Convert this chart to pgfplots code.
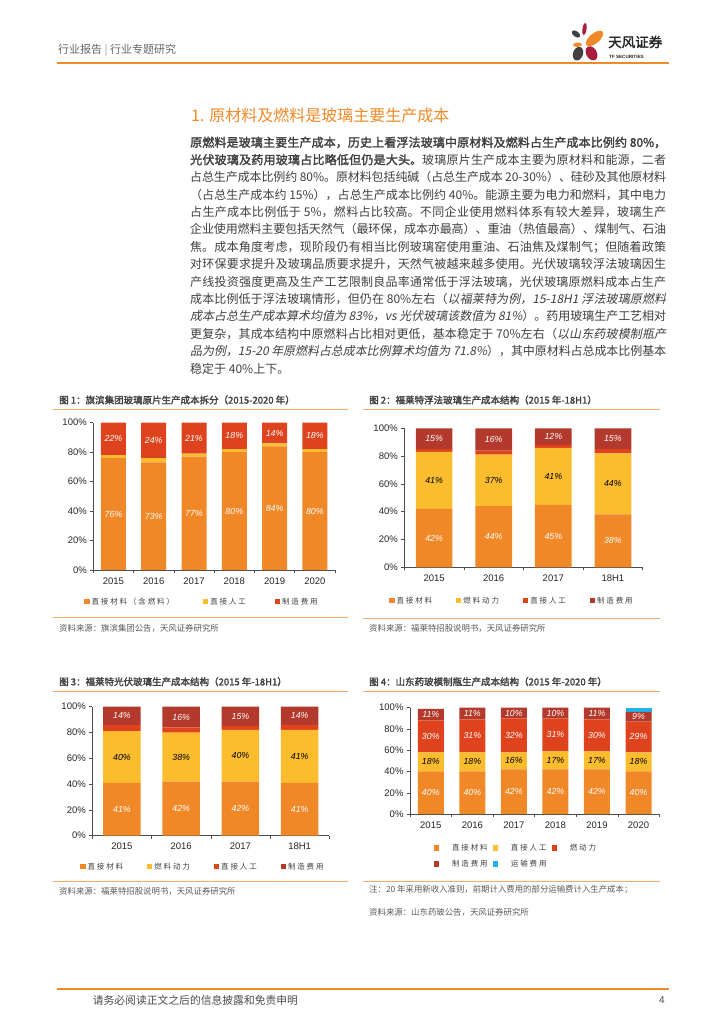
\documentclass[border=0pt]{standalone}
\usepackage{fontspec}
\usepackage{pgfplots}
\pgfplotsset{compat=1.18}
\setmainfont{Noto Sans CJK SC}[AutoFakeBold=2, AutoFakeSlant=0.2]
\newfontfamily\arial{Liberation Sans}
\newfontfamily\legfont{Noto Sans CJK SC}[LetterSpace=25]
\XeTeXlinebreaklocale "zh"
\XeTeXlinebreakskip=0pt plus 2pt minus 0.3pt
\definecolor{cor}{RGB}{241,136,40}
\definecolor{cye}{RGB}{251,188,45}
\definecolor{cre}{RGB}{223,67,30}
\definecolor{cdr}{RGB}{178,57,44}
\definecolor{cbl}{RGB}{30,180,234}
\definecolor{tfor}{RGB}{240,138,40}
\definecolor{lineor}{RGB}{245,170,105}
\definecolor{txt}{RGB}{64,64,64}
\definecolor{crim}{RGB}{168,28,62}
\definecolor{dgray}{RGB}{64,64,64}
\pgfplotsset{
 stk/.style={
  ybar stacked, scale only axis, ymin=0, ymax=100,
  axis x line=bottom, axis y line=left, axis line style={-, black!70, line width=0.5pt},
  ytick={0,20,...,100}, yticklabels={0\%,20\%,40\%,60\%,80\%,100\%},
  tick align=outside, major tick length=3pt,
  tick style={black!70, line width=0.5pt},
  xticklabels={},
  extra x tick style={major tick length=0pt},
  tick label style={font=\arial\fontsize{9.5}{10}\selectfont, text=black!85},
  xticklabel style={yshift=-4pt},
  every node near coord/.append style={anchor=center, font=\arial\itshape\fontsize{8.8}{9}\selectfont},
  legend image code/.code={\path[#1, draw=none] (0pt,-2.6pt) rectangle (5.2pt,2.6pt);},
  legend style={draw=none, fill=none, font=\legfont\fontsize{7.5}{9}\selectfont, text=txt, anchor=center},
  clip=false,
 },
 wl/.style={nodes near coords, point meta=explicit symbolic, every node near coord/.append style={text=white}},
 bl/.style={nodes near coords, point meta=explicit symbolic, every node near coord/.append style={text=black}},
}
\begin{document}
\begin{tikzpicture}
\fill[white] (0,0) rectangle (724pt,-1024pt);
\path[use as bounding box] (0,0) rectangle (724pt,-1024pt);
% header
\node[anchor=west, inner sep=0, text=black!60, font=\fontsize{11}{12}\selectfont] at (58pt,-50pt) {行业报告 {\color{black!40}|} 行业专题研究};
\draw[tfor, line width=1.3pt] (57pt,-63pt) -- (669pt,-63pt);
\fill[crim, shift={(584.5pt,-29pt)}, rotate=-8] (0,0) ellipse (2pt and 6.2pt);
\fill[dgray, shift={(576pt,-34pt)}, rotate=-35] (0,0) ellipse (4.8pt and 2.8pt);
\fill[tfor, shift={(594.5pt,-38.5pt)}, rotate=40] (0,0) ellipse (10.5pt and 5pt);
\fill[tfor, shift={(577.5pt,-44.7pt)}, rotate=5] (0,0) ellipse (4.5pt and 2.2pt);
\fill[dgray, shift={(578pt,-53.7pt)}, rotate=-20] (0,0) ellipse (5pt and 7pt);
\fill[crim, shift={(591.5pt,-53.3pt)}, rotate=30] (0,0) ellipse (5.3pt and 7.5pt);
\node[anchor=west, inner sep=0, text=black!85, font=\bfseries\fontsize{13.5}{14}\selectfont] at (608pt,-42pt) {天风证券};
\node[anchor=west, inner sep=0, text=black!85, font=\arial\bfseries\fontsize{4.6}{5}\selectfont] at (609pt,-56.5pt) {TF SECURITIES};
% title
\node[anchor=west, inner sep=0, text=tfor, font=\fontsize{16}{17}\selectfont] at (191pt,-115pt) {1. 原材料及燃料是玻璃主要生产成本};
% body
\node[anchor=north west, inner sep=0, text width=476pt, align=justify, text=txt, font=\fontsize{12}{17.4}\selectfont] at (190pt,-136.5pt) {\parfillskip=0pt\emergencystretch=0pt
\textbf{原燃料是玻璃主要生产成本，历史上看浮法玻璃中原材料及燃料占生产成本比例约 80\%，}\par
\textbf{光伏玻璃及药用玻璃占比略低但仍是大头。}玻璃原片生产成本主要为原材料和能源，二者\par
占总生产成本比例约 80\%。原材料包括纯碱（占总生产成本 20-30\%）、硅砂及其他原材料\par
（占总生产成本约 15\%），占总生产成本比例约 40\%。能源主要为电力和燃料，其中电力\par
占生产成本比例低于 5\%，燃料占比较高。不同企业使用燃料体系有较大差异，玻璃生产\par
企业使用燃料主要包括天然气（最环保，成本亦最高）、重油（热值最高）、煤制气、石油\par
焦。成本角度考虑，现阶段仍有相当比例玻璃窑使用重油、石油焦及煤制气；但随着政策\par
对环保要求提升及玻璃品质要求提升，天然气被越来越多使用。光伏玻璃较浮法玻璃因生\par
产线投资强度更高及生产工艺限制良品率通常低于浮法玻璃，光伏玻璃原燃料成本占生产\par
成本比例低于浮法玻璃情形，但仍在 80\%左右（\textit{以福莱特为例，15-18H1 浮法玻璃原燃料}\par
\textit{成本占总生产成本算术均值为 83\%，vs 光伏玻璃该数值为 81\%}）。药用玻璃生产工艺相对\par
更复杂，其成本结构中原燃料占比相对更低，基本稳定于 70\%左右（\textit{以山东药玻模制瓶产}\par
\textit{品为例，15-20 年原燃料占总成本比例算术均值为 71.8\%}），其中原材料占总成本比例基本\par
\parfillskip=0pt plus 1fil 稳定于 40\%上下。\par};
% chart frames
\begin{scope}[every node/.style={anchor=west, inner sep=0}]
\node[text=txt, font=\bfseries\fontsize{9.5}{10}\selectfont] at (59pt,-400pt) {图 1：旗滨集团玻璃原片生产成本拆分（2015-2020 年）};
\node[text=txt, font=\bfseries\fontsize{9.5}{10}\selectfont] at (369pt,-400pt) {图 2：福莱特浮法玻璃生产成本结构（2015 年-18H1）};
\node[text=txt, font=\bfseries\fontsize{9.5}{10}\selectfont] at (59pt,-681.7pt) {图 3：福莱特光伏玻璃生产成本结构（2015 年-18H1）};
\node[text=txt, font=\bfseries\fontsize{9.5}{10}\selectfont] at (369pt,-681.7pt) {图 4：山东药玻模制瓶生产成本结构（2015 年-2020 年）};
\node[text=black!65, font=\fontsize{8.4}{9}\selectfont] at (59pt,-628pt) {资料来源：旗滨集团公告，天风证券研究所};
\node[text=black!65, font=\fontsize{8.4}{9}\selectfont] at (369pt,-628pt) {资料来源：福莱特招股说明书，天风证券研究所};
\node[text=black!65, font=\fontsize{8.4}{9}\selectfont] at (59pt,-891pt) {资料来源：福莱特招股说明书，天风证券研究所};
\node[text=black!65, font=\fontsize{8.4}{9}\selectfont] at (369pt,-890pt) {注：20 年采用新收入准则，前期计入费用的部分运输费计入生产成本；};
\node[text=black!65, font=\fontsize{8.4}{9}\selectfont] at (369pt,-912pt) {资料来源：山东药玻公告，天风证券研究所};
\end{scope}
\draw[lineor, line width=0.8pt] (53pt,-409pt) -- (348pt,-409pt);
\draw[lineor, line width=0.8pt] (363pt,-409pt) -- (660pt,-409pt);
\draw[lineor, line width=0.8pt] (53pt,-617.5pt) -- (348pt,-617.5pt);
\draw[lineor, line width=0.8pt] (363pt,-618.5pt) -- (660pt,-618.5pt);
\draw[lineor, line width=0.8pt] (53pt,-691pt) -- (348pt,-691pt);
\draw[lineor, line width=0.8pt] (363pt,-691pt) -- (660pt,-691pt);
\draw[lineor, line width=0.8pt] (53pt,-881.7pt) -- (348pt,-881.7pt);
\draw[lineor, line width=0.8pt] (363pt,-881.7pt) -- (660pt,-881.7pt);
% footer
\draw[tfor, line width=1.8pt] (57pt,-989.3pt) -- (669pt,-989.3pt);
\node[anchor=west, inner sep=0, text=black!70, font=\fontsize{10.8}{12}\selectfont] at (92.6pt,-1000pt) {请务必阅读正文之后的信息披露和免责申明};
\node[anchor=east, inner sep=0, text=black!70, font=\arial\fontsize{10}{12}\selectfont] at (665pt,-1000pt) {4};

% chart 1
\begin{axis}[stk, at={(93.3pt,-570pt)}, anchor=south west, width=241.7pt, height=147.3pt,
  xmin=-0.5, xmax=5.5, bar width=25pt,
  xtick={-0.5,0.5,...,5.5}, extra x ticks={0,1,2,3,4,5}, extra x tick labels={2015,2016,2017,2018,2019,2020},
  legend columns=3, legend style={at={(0.45,-0.215)}, /tikz/every even column/.append style={column sep=27pt}}]
\addplot[fill=cor, draw=none, wl] coordinates {(0,76)[76\%] (1,73)[73\%] (2,77)[77\%] (3,80)[80\%] (4,84)[84\%] (5,80)[80\%]};
\addplot[fill=cye, draw=none] coordinates {(0,2) (1,3) (2,2) (3,2) (4,2) (5,2)};
\addplot[fill=cre, draw=none, wl] coordinates {(0,22)[22\%] (1,24)[24\%] (2,21)[21\%] (3,18)[18\%] (4,14)[14\%] (5,18)[18\%]};
\legend{直接材料（含燃料）,直接人工,制造费用}
\end{axis}

% chart 2
\begin{axis}[stk, at={(404.3pt,-567.3pt)}, anchor=south west, width=238.4pt, height=139pt,
  xmin=-0.5, xmax=3.5, bar width=36.7pt,
  xtick={-0.5,0.5,...,3.5}, extra x ticks={0,1,2,3}, extra x tick labels={2015,2016,2017,18H1},
  legend columns=4, legend style={at={(0.452,-0.24)}, /tikz/every even column/.append style={column sep=22pt}}]
\addplot[fill=cor, draw=none, wl] coordinates {(0,42)[42\%] (1,44)[44\%] (2,45)[45\%] (3,38)[38\%]};
\addplot[fill=cye, draw=none, bl] coordinates {(0,41)[41\%] (1,37)[37\%] (2,41)[41\%] (3,44)[44\%]};
\addplot[fill=cre, draw=none] coordinates {(0,2) (1,3) (2,2) (3,3)};
\addplot[fill=cdr, draw=none, wl] coordinates {(0,15)[15\%] (1,16)[16\%] (2,12)[12\%] (3,15)[15\%]};
\legend{直接材料,燃料动力,直接人工,制造费用}
\end{axis}

% chart 3
\begin{axis}[stk, at={(92.3pt,-835.7pt)}, anchor=south west, width=237pt, height=129pt,
  xmin=-0.5, xmax=3.5, bar width=37.4pt,
  xtick={-0.5,0.5,...,3.5}, extra x ticks={0,1,2,3}, extra x tick labels={2015,2016,2017,18H1},
  legend columns=4, legend style={at={(0.467,-0.24)}, /tikz/every even column/.append style={column sep=22pt}}]
\addplot[fill=cor, draw=none, wl] coordinates {(0,41)[41\%] (1,42)[42\%] (2,42)[42\%] (3,41)[41\%]};
\addplot[fill=cye, draw=none, bl] coordinates {(0,40)[40\%] (1,38)[38\%] (2,40)[40\%] (3,41)[41\%]};
\addplot[fill=cre, draw=none] coordinates {(0,5) (1,4) (2,3) (3,4)};
\addplot[fill=cdr, draw=none, wl] coordinates {(0,14)[14\%] (1,16)[16\%] (2,15)[15\%] (3,14)[14\%]};
\legend{直接材料,燃料动力,直接人工,制造费用}
\end{axis}

% chart 4
\begin{axis}[stk, at={(410pt,-814pt)}, anchor=south west, width=249.3pt, height=106.3pt,
  xmin=-0.5, xmax=5.5, bar width=26pt,
  xtick={-0.5,0.5,...,5.5}, extra x ticks={0,1,2,3,4,5}, extra x tick labels={2015,2016,2017,2018,2019,2020},
  legend columns=3, legend style={at={(0.425,-0.395)}, /tikz/every odd column/.append style={column sep=11pt}, /tikz/every even column/.append style={column sep=3pt}, row sep=4pt}]
\addplot[fill=cor, draw=none, wl] coordinates {(0,40)[40\%] (1,40)[40\%] (2,42)[42\%] (3,42)[42\%] (4,42)[42\%] (5,40)[40\%]};
\addplot[fill=cye, draw=none, bl] coordinates {(0,18)[18\%] (1,18)[18\%] (2,16)[16\%] (3,17)[17\%] (4,17)[17\%] (5,18)[18\%]};
\addplot[fill=cre, draw=none, wl] coordinates {(0,30)[30\%] (1,31)[31\%] (2,32)[32\%] (3,31)[31\%] (4,30)[30\%] (5,29)[29\%]};
\addplot[fill=cdr, draw=none, wl] coordinates {(0,11)[11\%] (1,11)[11\%] (2,10)[10\%] (3,10)[10\%] (4,11)[11\%] (5,9)[9\%]};
\addplot[fill=cbl, draw=none] coordinates {(0,0) (1,0) (2,0) (3,0) (4,0) (5,4)};
\legend{直接材料,直接人工,燃动力,制造费用,运输费用}
\end{axis}
\end{tikzpicture}
\end{document}
